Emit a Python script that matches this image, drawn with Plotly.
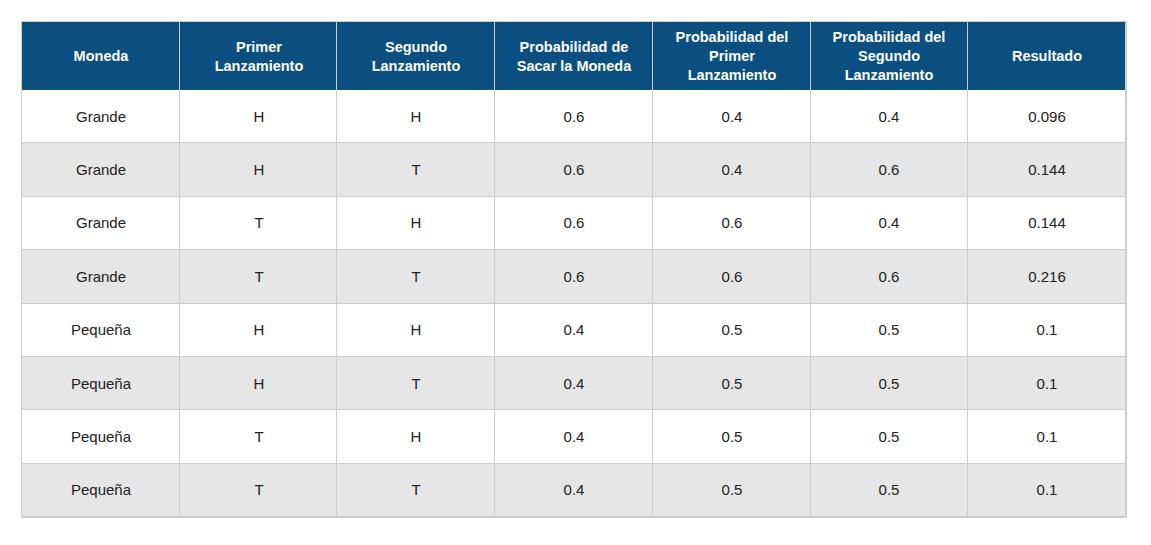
import plotly.graph_objects as go

headers = ["Moneda", "Primer<br>Lanzamiento", "Segundo<br>Lanzamiento",
           "Probabilidad de<br>Sacar la Moneda", "Probabilidad del<br>Primer<br>Lanzamiento",
           "Probabilidad del<br>Segundo<br>Lanzamiento", "Resultado"]
moneda = ["Grande", "Grande", "Grande", "Grande", "Pequeña", "Pequeña", "Pequeña", "Pequeña"]
primer = ["H", "H", "T", "T", "H", "H", "T", "T"]
segundo = ["H", "T", "H", "T", "H", "T", "H", "T"]
prob_moneda = ["0.6", "0.6", "0.6", "0.6", "0.4", "0.4", "0.4", "0.4"]
prob_primer = ["0.4", "0.4", "0.6", "0.6", "0.5", "0.5", "0.5", "0.5"]
prob_segundo = ["0.4", "0.6", "0.4", "0.6", "0.5", "0.5", "0.5", "0.5"]
resultado = ["0.096", "0.144", "0.144", "0.216", "0.1", "0.1", "0.1", "0.1"]

columns = [moneda, primer, segundo, prob_moneda, prob_primer, prob_segundo, resultado]
n_rows = len(moneda)
n_cols = len(columns)

# layout geometry (figure pixels; page body adds an 8px margin)
W, H = 1135, 529
HEADER_H = 68.0
ROW_H = 53.4
total_h = HEADER_H + n_rows * ROW_H

x_edges = list(range(n_cols + 1))
header_y = [0, HEADER_H]
body_y = [HEADER_H + i * ROW_H for i in range(n_rows + 1)]

body_text = [[columns[c][r] for c in range(n_cols)] for r in range(n_rows)]
body_z = [[r % 2 for _ in range(n_cols)] for r in range(n_rows)]

FONT = "Liberation Sans, Helvetica, Arial, sans-serif"
GRID = "#cdcdcd"

fig = go.Figure()
fig.add_trace(go.Heatmap(
    x=x_edges, y=header_y,
    z=[[0] * n_cols], text=[headers],
    texttemplate="<b>%{text}</b>",
    textfont=dict(family=FONT, size=14.5, color="white"),
    colorscale=[[0, "#0b4f80"], [1, "#0b4f80"]],
    zmin=0, zmax=1, showscale=False, xgap=1, ygap=0, hoverinfo="skip",
))
fig.add_trace(go.Heatmap(
    x=x_edges, y=body_y,
    z=body_z, text=body_text,
    texttemplate="%{text}",
    textfont=dict(family=FONT, size=15, color="#222222"),
    colorscale=[[0, "#ffffff"], [1, "#e6e6e6"]],
    zmin=0, zmax=1, showscale=False, xgap=1, ygap=1, hoverinfo="skip",
))

axis_style = dict(showgrid=False, zeroline=False, showticklabels=False, ticks="",
                  showline=True, mirror=True, linecolor=GRID, linewidth=1, fixedrange=True)
fig.update_xaxes(range=[0, n_cols], **axis_style)
fig.update_yaxes(range=[total_h, 0], **axis_style)
fig.update_layout(
    width=W, height=H,
    margin=dict(l=14, r=W - 1118, t=14, b=H - 14 - round(total_h)),
    paper_bgcolor="white", plot_bgcolor=GRID,
)
fig.write_html("out.html", config={"displayModeBar": False})
